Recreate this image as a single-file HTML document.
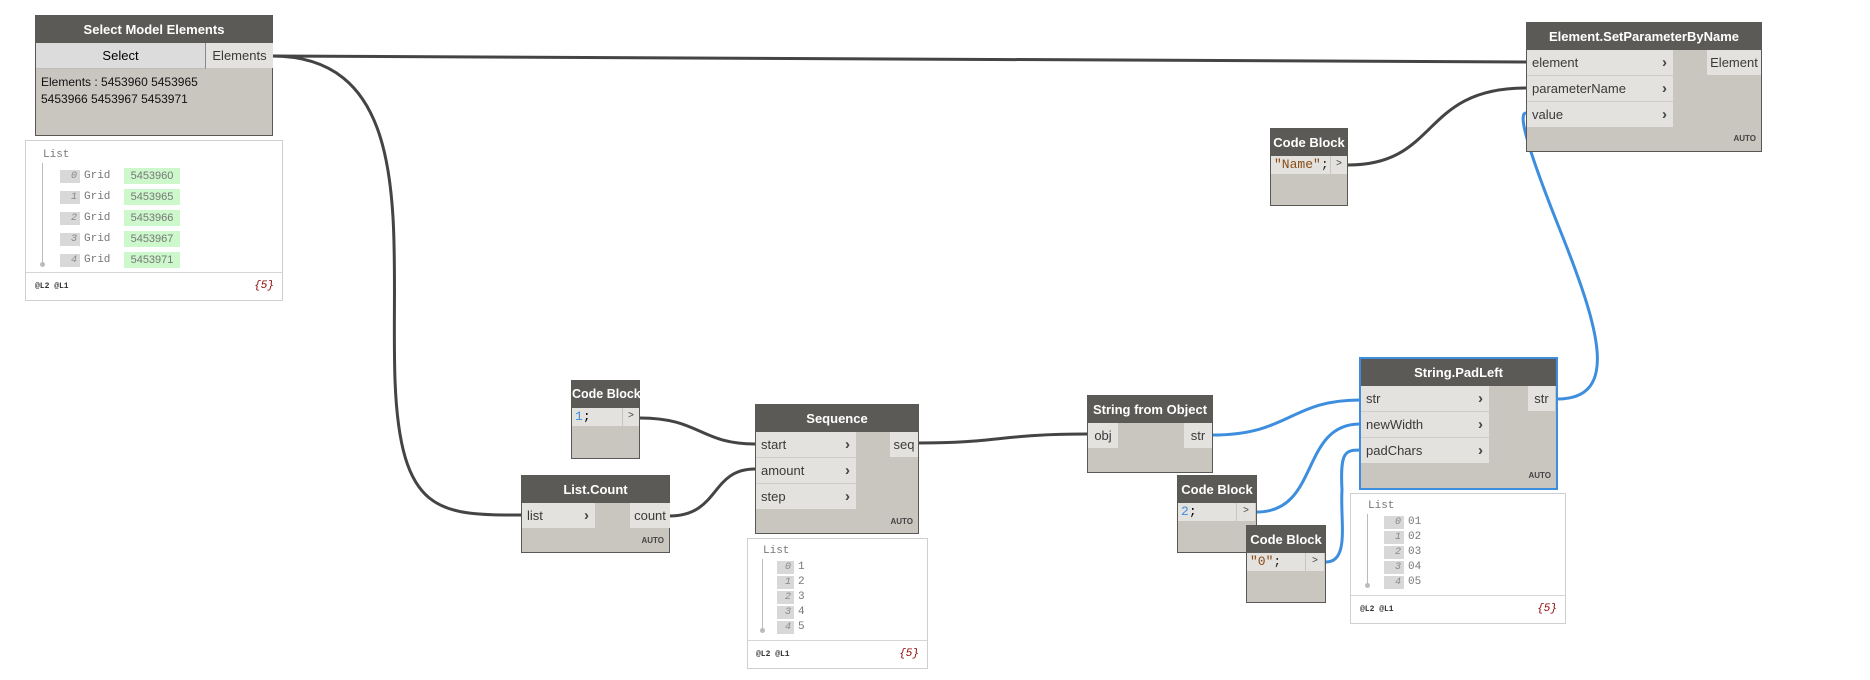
<!DOCTYPE html>
<html><head><meta charset="utf-8"><style>
body{margin:0;width:1870px;height:680px;background:#fff;position:relative;overflow:hidden;font-family:"Liberation Sans",sans-serif;}
.n{position:absolute;background:#c9c5bf;border:1px solid #5a5855;box-sizing:border-box;}
.h{position:absolute;left:0;right:0;top:0;background:#5c5a57;color:#fff;font-size:13px;font-weight:bold;text-align:center;white-space:nowrap;overflow:visible;}
.p{position:absolute;background:#e4e2de;color:#3a3a3a;font-size:13px;box-sizing:border-box;padding-left:5px;border-bottom:1px solid #cfcdc9;}
.p b{position:absolute;right:6px;font-size:15px;color:#444;}
.o{position:absolute;background:#e4e2de;color:#3a3a3a;font-size:13px;text-align:center;}
.auto{position:absolute;right:5px;font-size:8px;font-weight:bold;color:#444;}
.w{position:absolute;border:1px solid #cfcfcf;background:#fff;box-sizing:border-box;font-family:"Liberation Mono",monospace;font-size:11px;color:#777;}
.idx{position:absolute;background:#d8d8d8;color:#888;font-style:italic;text-align:right;padding-right:3px;box-sizing:border-box;width:20px;height:13px;line-height:13px;font-size:10px;}
.wf{position:absolute;left:0;right:0;bottom:0;border-top:1px solid #d6d6d6;font-size:8px;font-weight:bold;color:#333;}
.cb{position:absolute;font-family:"Liberation Mono",monospace;font-size:13px;background:#e4e2de;}
</style></head><body>
<svg width="1870" height="680" style="position:absolute;left:0;top:0" fill="none" stroke-width="3">
<g stroke="#444">
<path d="M272 56 L1526 62"/>
<path d="M1348 165 C1440 165 1420 88 1526 88"/>
<path d="M272 56 C420 56 390 240 395 380 C400 515 440 515 521 515"/>
<path d="M640 418 C700 418 700 444 755 444"/>
<path d="M669 516 C720 516 710 469 755 469"/>
<path d="M918 443 C1000 443 1000 434 1087 434"/>
</g>
<g stroke="#3d8ede">
<path d="M1212 435 C1290 435 1290 400 1360 400"/>
<path d="M1257 512 C1320 512 1300 424 1360 424"/>
<path d="M1326 562 C1350 562 1340 520 1342 490 C1340 452 1345 450 1360 450"/>
<path d="M1557 399 C1620 399 1600 330 1560 230 C1520 130 1520 113 1526 113"/>
</g>
</svg>

<div class="n" style="left:35px;top:15px;width:238px;height:121px;">
<div class="h" style="height:27px;line-height:27px;">Select Model Elements</div>
<div style="position:absolute;left:0;top:27px;width:169px;height:25px;background:#dcdcdc;border-right:1px solid #888;border-bottom:1px solid #bbb;font-size:13px;text-align:center;line-height:25px;">Select</div>
<div class="o" style="left:170px;top:27px;width:67px;height:25px;line-height:25px;">Elements</div>
<div style="position:absolute;left:5px;top:58px;font-size:12px;line-height:17px;color:#111;">Elements : 5453960 5453965<br>5453966 5453967 5453971</div>
</div>
<div class="w" style="left:25px;top:140px;width:258px;height:161px;">
<div style="position:absolute;left:17px;top:8px;">List</div>
<div style="position:absolute;left:16px;top:22px;width:1px;height:100px;background:#bbb;"></div>
<div style="position:absolute;left:14px;top:121px;width:5px;height:5px;border-radius:3px;background:#bbb;"></div>
<div style="position:absolute;left:34px;top:25px;line-height:21px;">
<div style="position:relative;height:21px"><span class="idx" style="left:0;top:4px">0</span><span style="position:absolute;left:24px;top:0">Grid</span><span style="position:absolute;left:64px;top:2px;background:#ccf8cc;width:56px;height:16px;line-height:16px;text-align:center;font-family:'Liberation Sans',sans-serif;">5453960</span></div>
<div style="position:relative;height:21px"><span class="idx" style="left:0;top:4px">1</span><span style="position:absolute;left:24px;top:0">Grid</span><span style="position:absolute;left:64px;top:2px;background:#ccf8cc;width:56px;height:16px;line-height:16px;text-align:center;font-family:'Liberation Sans',sans-serif;">5453965</span></div>
<div style="position:relative;height:21px"><span class="idx" style="left:0;top:4px">2</span><span style="position:absolute;left:24px;top:0">Grid</span><span style="position:absolute;left:64px;top:2px;background:#ccf8cc;width:56px;height:16px;line-height:16px;text-align:center;font-family:'Liberation Sans',sans-serif;">5453966</span></div>
<div style="position:relative;height:21px"><span class="idx" style="left:0;top:4px">3</span><span style="position:absolute;left:24px;top:0">Grid</span><span style="position:absolute;left:64px;top:2px;background:#ccf8cc;width:56px;height:16px;line-height:16px;text-align:center;font-family:'Liberation Sans',sans-serif;">5453967</span></div>
<div style="position:relative;height:21px"><span class="idx" style="left:0;top:4px">4</span><span style="position:absolute;left:24px;top:0">Grid</span><span style="position:absolute;left:64px;top:2px;background:#ccf8cc;width:56px;height:16px;line-height:16px;text-align:center;font-family:'Liberation Sans',sans-serif;">5453971</span></div>
</div>
<div class="wf" style="height:27px;line-height:27px;"><span style="position:absolute;left:9px">@L2 @L1</span><span style="position:absolute;right:8px;font-size:11px;font-style:italic;font-weight:normal;color:#8b0000">{5}</span></div>
</div>

<div class="n" style="left:1526px;top:22px;width:236px;height:130px;">
<div class="h" style="height:27px;line-height:27px;">Element.SetParameterByName</div>
<div class="p" style="left:0;top:27px;width:146px;height:26px;line-height:26px;">element<b>›</b></div>
<div class="p" style="left:0;top:53px;width:146px;height:26px;line-height:26px;">parameterName<b>›</b></div>
<div class="p" style="left:0;top:79px;width:146px;height:25px;line-height:25px;border:0">value<b>›</b></div>
<div class="o" style="left:180px;top:27px;width:54px;height:25px;line-height:25px;">Element</div>
<div class="auto" style="top:111px">AUTO</div>
</div>

<div class="n" style="left:1270px;top:128px;width:78px;height:78px;">
<div class="h" style="height:27px;line-height:27px;">Code Block</div>
<div class="cb" style="left:0;top:27px;width:59px;height:18px;line-height:18px;padding-left:3px;box-sizing:border-box;color:#8a4b14">"Name"<span style="color:#222">;</span></div>
<div class="cb" style="left:60px;top:27px;width:16px;height:18px;line-height:18px;font-size:10px;text-align:center;color:#444">&gt;</div>
</div>

<div class="n" style="left:571px;top:380px;width:69px;height:79px;">
<div class="h" style="height:27px;line-height:27px;font-size:12.5px;">Code Block</div>
<div class="cb" style="left:0;top:27px;width:50px;height:18px;line-height:18px;padding-left:3px;box-sizing:border-box;"><span style="color:#3d8ede">1</span>;</div>
<div class="cb" style="left:51px;top:27px;width:16px;height:18px;line-height:18px;font-size:10px;text-align:center;color:#444">&gt;</div>
</div>

<div class="n" style="left:521px;top:475px;width:149px;height:78px;">
<div class="h" style="height:27px;line-height:27px;">List.Count</div>
<div class="p" style="left:0;top:27px;width:73px;height:25px;line-height:25px;border:0">list<b>›</b></div>
<div class="o" style="left:108px;top:27px;width:40px;height:25px;line-height:25px;">count</div>
<div class="auto" style="top:60px">AUTO</div>
</div>

<div class="n" style="left:755px;top:404px;width:164px;height:130px;">
<div class="h" style="height:27px;line-height:27px;">Sequence</div>
<div class="p" style="left:0;top:27px;width:100px;height:26px;line-height:26px;">start<b>›</b></div>
<div class="p" style="left:0;top:53px;width:100px;height:26px;line-height:26px;">amount<b>›</b></div>
<div class="p" style="left:0;top:79px;width:100px;height:25px;line-height:25px;border:0">step<b>›</b></div>
<div class="o" style="left:134px;top:27px;width:28px;height:25px;line-height:25px;">seq</div>
<div class="auto" style="top:112px">AUTO</div>
</div>
<div class="w" style="left:747px;top:538px;width:181px;height:131px;">
<div style="position:absolute;left:15px;top:6px;">List</div>
<div style="position:absolute;left:14px;top:20px;width:1px;height:72px;background:#bbb;"></div>
<div style="position:absolute;left:12px;top:89px;width:5px;height:5px;border-radius:3px;background:#bbb;"></div>
<div style="position:absolute;left:29px;top:21px;line-height:15px;">
<div style="position:relative;height:15px"><span class="idx" style="left:0;top:1px;width:17px">0</span><span style="position:absolute;left:21px">1</span></div>
<div style="position:relative;height:15px"><span class="idx" style="left:0;top:1px;width:17px">1</span><span style="position:absolute;left:21px">2</span></div>
<div style="position:relative;height:15px"><span class="idx" style="left:0;top:1px;width:17px">2</span><span style="position:absolute;left:21px">3</span></div>
<div style="position:relative;height:15px"><span class="idx" style="left:0;top:1px;width:17px">3</span><span style="position:absolute;left:21px">4</span></div>
<div style="position:relative;height:15px"><span class="idx" style="left:0;top:1px;width:17px">4</span><span style="position:absolute;left:21px">5</span></div>
</div>
<div class="wf" style="height:27px;line-height:27px;"><span style="position:absolute;left:8px">@L2 @L1</span><span style="position:absolute;right:8px;font-size:11px;font-style:italic;font-weight:normal;color:#8b0000">{5}</span></div>
</div>

<div class="n" style="left:1087px;top:395px;width:126px;height:78px;">
<div class="h" style="height:27px;line-height:27px;">String from Object</div>
<div class="o" style="left:0;top:27px;width:30px;height:25px;line-height:25px;">obj</div>
<div class="o" style="left:96px;top:27px;width:28px;height:25px;line-height:25px;">str</div>
</div>

<div class="n" style="left:1359px;top:357px;width:199px;height:133px;border:2px solid #3d8ede;">
<div class="h" style="height:27px;line-height:27px;">String.PadLeft</div>
<div class="p" style="left:0;top:27px;width:128px;height:26px;line-height:26px;">str<b>›</b></div>
<div class="p" style="left:0;top:53px;width:128px;height:26px;line-height:26px;">newWidth<b>›</b></div>
<div class="p" style="left:0;top:79px;width:128px;height:25px;line-height:25px;border:0">padChars<b>›</b></div>
<div class="o" style="left:167px;top:27px;width:27px;height:25px;line-height:25px;">str</div>
<div class="auto" style="top:112px">AUTO</div>
</div>
<div class="w" style="left:1350px;top:493px;width:216px;height:131px;">
<div style="position:absolute;left:17px;top:6px;">List</div>
<div style="position:absolute;left:16px;top:20px;width:1px;height:72px;background:#bbb;"></div>
<div style="position:absolute;left:14px;top:89px;width:5px;height:5px;border-radius:3px;background:#bbb;"></div>
<div style="position:absolute;left:33px;top:21px;line-height:15px;">
<div style="position:relative;height:15px"><span class="idx" style="left:0;top:1px">0</span><span style="position:absolute;left:24px">01</span></div>
<div style="position:relative;height:15px"><span class="idx" style="left:0;top:1px">1</span><span style="position:absolute;left:24px">02</span></div>
<div style="position:relative;height:15px"><span class="idx" style="left:0;top:1px">2</span><span style="position:absolute;left:24px">03</span></div>
<div style="position:relative;height:15px"><span class="idx" style="left:0;top:1px">3</span><span style="position:absolute;left:24px">04</span></div>
<div style="position:relative;height:15px"><span class="idx" style="left:0;top:1px">4</span><span style="position:absolute;left:24px">05</span></div>
</div>
<div class="wf" style="height:27px;line-height:27px;"><span style="position:absolute;left:9px">@L2 @L1</span><span style="position:absolute;right:8px;font-size:11px;font-style:italic;font-weight:normal;color:#8b0000">{5}</span></div>
</div>

<div class="n" style="left:1177px;top:475px;width:80px;height:78px;">
<div class="h" style="height:27px;line-height:27px;">Code Block</div>
<div class="cb" style="left:0;top:27px;width:58px;height:18px;line-height:18px;padding-left:3px;box-sizing:border-box;"><span style="color:#3d8ede">2</span>;</div>
<div class="cb" style="left:59px;top:27px;width:18px;height:18px;line-height:18px;font-size:10px;text-align:center;color:#444">&gt;</div>
</div>

<div class="n" style="left:1246px;top:525px;width:80px;height:78px;">
<div class="h" style="height:27px;line-height:27px;">Code Block</div>
<div class="cb" style="left:0;top:27px;width:58px;height:18px;line-height:18px;padding-left:3px;box-sizing:border-box;color:#8a4b14">"0"<span style="color:#222">;</span></div>
<div class="cb" style="left:59px;top:27px;width:18px;height:18px;line-height:18px;font-size:10px;text-align:center;color:#444">&gt;</div>
</div>
</body></html>
